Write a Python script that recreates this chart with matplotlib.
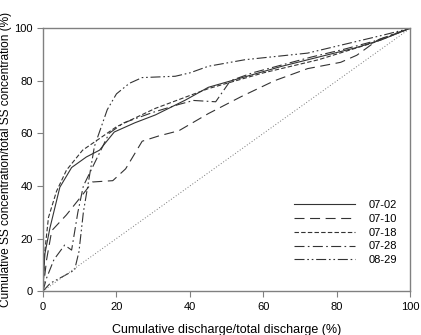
import matplotlib
matplotlib.use("Agg")
import matplotlib.pyplot as plt

plt.rcParams['font.family'] = ['Liberation Sans', 'DejaVu Sans']

# Data (cumulative discharge %, cumulative SS concentration %)
x_0702 = [0, 0.5, 1.9, 4.6, 7.8, 11.8, 15.4, 19.4, 25, 30.6, 38.7, 45, 55, 65, 75, 85, 92, 100]
y_0702 = [0, 14, 24, 39.5, 47, 51, 53.6, 60.5, 64, 67, 72.6, 77.5, 81.5, 85.5, 89, 92.5, 95.5, 100]

x_0710 = [0, 1, 2.4, 6.4, 10.4, 13.5, 19, 22.5, 27, 31.5, 37, 45, 54, 63, 72, 81, 85.4, 91, 100]
y_0710 = [0, 12, 23, 29, 36, 41.5, 42, 46.5, 57, 59, 61, 67.5, 74, 80, 84.6, 87, 89.7, 95.4, 100]

x_0718 = [0, 0.5, 1.5, 3.7, 6.4, 10.8, 16, 20, 30.6, 45, 60, 75, 90, 100]
y_0718 = [0, 15, 28, 38, 46, 53.6, 58.6, 62.5, 69.5, 77, 83, 88, 94.5, 100]

x_0728 = [0, 1, 3, 5.9, 7.8, 9.5, 11, 14.5, 18, 22, 30, 37, 41, 47, 51, 57, 65, 73, 82, 90, 100]
y_0728 = [0, 5, 12, 17.5, 15.6, 30, 40, 50, 60, 64, 68, 71, 72.5, 72, 80, 83, 86, 89, 92, 95, 100]

x_0829 = [0, 2, 6, 8.6, 9.8, 11, 14, 17.5, 20, 23.5, 27, 36, 40, 45, 55, 72, 84.6, 93, 100]
y_0829 = [0, 3, 6, 8, 15, 30, 55, 69, 75, 79, 81.2, 81.7, 83, 85.5, 88, 90.5, 94.7, 97.5, 100]

labels = ['07-02', '07-10', '07-18', '07-28', '08-29']

fig = plt.figure(figsize=(4.21, 3.35), dpi=100)
ax = fig.add_axes([0.102, 0.131, 0.873, 0.785])

lc = '#333333'
lw = 0.8
ax.plot(x_0702, y_0702, color=lc, lw=lw, linestyle='-', label=labels[0])
ax.plot(x_0710, y_0710, color=lc, lw=lw, linestyle=(0, (9, 5)), label=labels[1])
ax.plot(x_0718, y_0718, color=lc, lw=lw, linestyle=(0, (4, 2)), label=labels[2])
ax.plot(x_0728, y_0728, color=lc, lw=lw, linestyle=(0, (9, 3, 1.5, 3)), label=labels[3])
ax.plot(x_0829, y_0829, color=lc, lw=lw, linestyle=(0, (9, 2.5, 1.5, 2.5, 1.5, 2.5)), label=labels[4])
ax.plot([0, 100], [0, 100], color='#777777', lw=0.7, linestyle=(0, (1, 2)))

ax.set_xlim(0, 100)
ax.set_ylim(0, 100)
ax.set_xticks([0, 20, 40, 60, 80, 100])
ax.set_yticks([0, 20, 40, 60, 80, 100])
ax.tick_params(direction='out', length=4, width=0.8, colors='#808080', labelcolor='black', labelsize=8)
for s in ax.spines.values():
    s.set_color('#808080')
    s.set_linewidth(1.0)

ax.set_xlabel('Cumulative discharge/total discharge (%)', fontsize=9, labelpad=9)
ax.set_ylabel('Cumulative SS concentration/total SS concentration (%)', fontsize=8.6)
ax.yaxis.set_label_coords(-0.083, 0.5)

leg = ax.legend(loc='lower right', bbox_to_anchor=(0.99, 0.06), frameon=False, fontsize=8,
                handlelength=5.5, handletextpad=1.2, labelspacing=0.35)

fig.savefig('out.png', dpi=100)
